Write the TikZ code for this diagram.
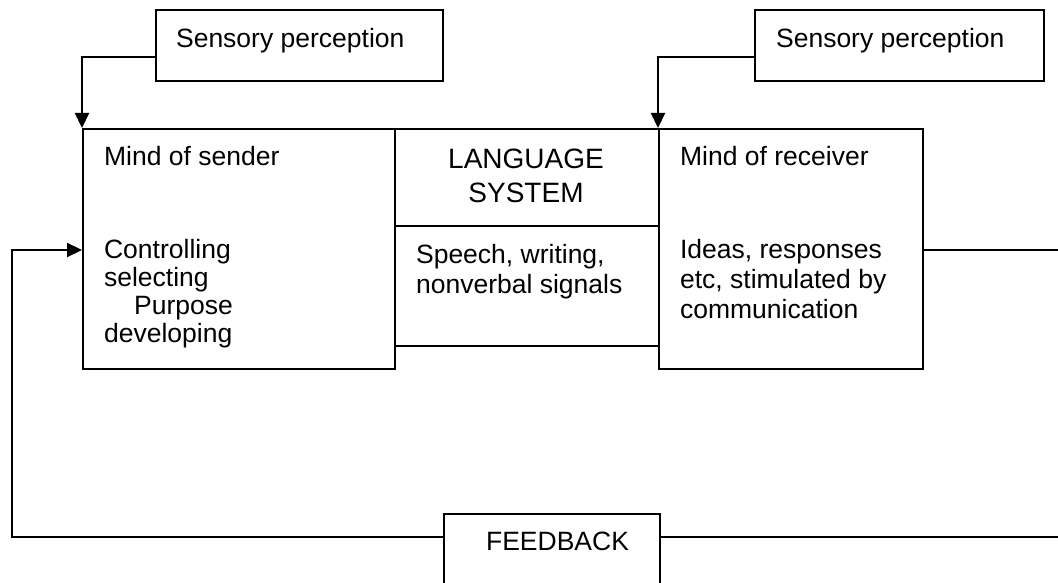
\documentclass[tikz,border=0pt]{standalone}
\usepackage{fontspec}
\setmainfont{Liberation Sans}
\usetikzlibrary{arrows.meta}
\begin{document}
\begin{tikzpicture}[x=1pt,y=-1pt,
  line width=2.2pt,
  box/.style={draw, rectangle, inner sep=0pt, anchor=north west},
  txt/.style={anchor=base west, inner sep=0pt, font=\fontsize{26.5}{30}\selectfont},
  ctxt/.style={anchor=base, inner sep=0pt, font=\fontsize{28}{34}\selectfont},
  arr/.style={-{Triangle[length=15pt,width=14pt]}}]
\useasboundingbox (0,0) rectangle (1058,583);
\clip (0,0) rectangle (1058,583);
% boxes
\node[box, minimum width=287pt, minimum height=71pt] (sp1) at (155,9) {};
\node[box, minimum width=289pt, minimum height=71pt] (sp2) at (754,9) {};
\node[box, minimum width=312pt, minimum height=240pt] (sender) at (82,128) {};
\node[box, minimum width=264pt, minimum height=97pt] (lang) at (394,128) {};
\node[box, minimum width=264pt, minimum height=120pt] (signals) at (394,225) {};
\node[box, minimum width=264pt, minimum height=240pt] (receiver) at (658,128) {};
\node[box, minimum width=216pt, minimum height=110pt] (fb) at (443,513) {};
% coordinates
\coordinate (c1) at (82,57);
\coordinate (c2) at (658,57);
\coordinate (fl) at (12,537);
\coordinate (fr) at (1062,537);
\coordinate (rr) at (1062,250);
\coordinate (lin) at (12,250);
% texts
\node[txt] (t1) at (175,48) {Sensory perception};
\node[txt] (t2) at (775,48) {Sensory perception};
\node[txt] (t3) at (103,166) {Mind of sender};
\node[txt] (t4) at (103,258) {Controlling};
\node[txt] (t5) at (103,286) {selecting};
\node[txt] (t6) at (133,314) {Purpose};
\node[txt] (t7) at (103,342) {developing};
\node[ctxt] (t8) at (526,169) {LANGUAGE};
\node[ctxt] (t9) at (526,203) {SYSTEM};
\node[txt] (t10) at (415,263) {Speech, writing,};
\node[txt] (t11) at (415,293) {nonverbal signals};
\node[txt] (t12) at (679,166) {Mind of receiver};
\node[txt] (t13) at (679,258) {Ideas, responses};
\node[txt] (t14) at (679,288) {etc, stimulated by};
\node[txt] (t15) at (679,318) {communication};
\node[txt] (t16) at (485,550) {FEEDBACK};
% connectors
\draw[arr] (sp1.west |- c1) -- (c1) -- (sender.north west);
\draw[arr] (sp2.west |- c2) -- (c2) -- (receiver.north west);
\draw (receiver.east |- rr) -- (rr);
\draw (fb.east |- fr) -- (fr);
\draw[arr] (fb.west |- fl) -- (fl) -- (lin) -- (sender.west |- lin);
\end{tikzpicture}
\end{document}
